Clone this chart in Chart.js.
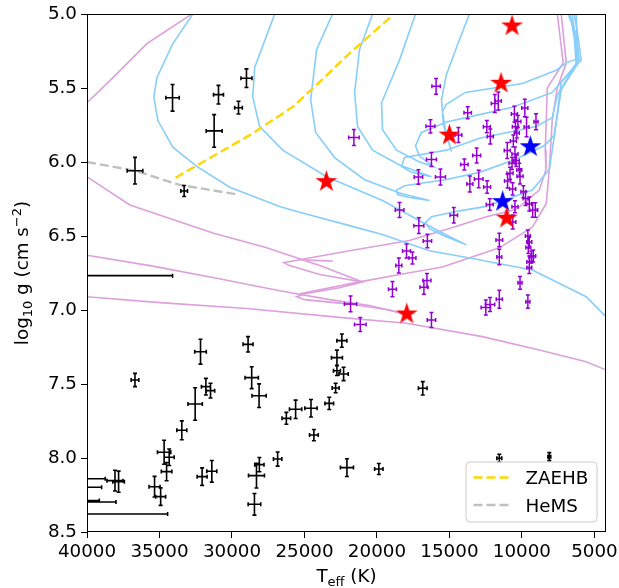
<!DOCTYPE html>
<html>
<head>
<meta charset="utf-8">
<script src="https://cdn.jsdelivr.net/npm/chart.js@4.4.0/dist/chart.umd.min.js"></script>
<style>
  html, body { margin: 0; padding: 0; background: #fff; }
</style>
</head>
<body>
<canvas id="hrd" width="619" height="588"></canvas>
<script>
// axis ticks
const xTicks = [40000, 35000, 30000, 25000, 20000, 15000, 10000, 5000];
const yTicks = [5.0, 5.5, 6.0, 6.5, 7.0, 7.5, 8.0, 8.5];

// [Teff, log g, err Teff, err log g]
const blackPts = [
  [34100, 5.566, 460, 0.090], [30930, 5.545, 345, 0.063], [29000, 5.434, 380, 0.063],
  [29550, 5.633, 265, 0.043], [31230, 5.790, 550, 0.110], [36690, 6.059, 540, 0.090],
  [33300, 6.196, 230, 0.037],
  [45000, 6.768, 10900, 0.03], [41500, 8.140, 2760, 0.03], [41000, 8.198, 2010, 0.03],
  [40800, 8.288, 1650, 0.03], [42000, 8.297, 4000, 0.03], [44000, 8.378, 9560, 0.03],
  [38070, 8.153, 550, 0.070], [37820, 8.160, 400, 0.071],
  [36690, 7.473, 265, 0.045], [32170, 7.282, 400, 0.084], [28890, 7.232, 345, 0.052],
  [28640, 7.457, 460, 0.074], [28130, 7.579, 490, 0.080], [31800, 7.518, 310, 0.056],
  [31480, 7.545, 290, 0.050], [32540, 7.635, 495, 0.110], [33460, 7.813, 345, 0.064],
  [34680, 7.961, 460, 0.081], [34330, 7.995, 345, 0.056], [34510, 8.092, 365, 0.062],
  [35340, 8.194, 380, 0.070], [34920, 8.261, 345, 0.059], [32060, 8.126, 345, 0.059],
  [31390, 8.090, 345, 0.073], [28310, 8.119, 550, 0.084], [28110, 8.045, 320, 0.048],
  [28450, 8.313, 435, 0.073], [26850, 8.007, 290, 0.048], [26250, 7.732, 300, 0.040],
  [25610, 7.671, 425, 0.062], [24550, 7.664, 425, 0.059], [24350, 7.845, 300, 0.038],
  [23290, 7.631, 300, 0.041], [22850, 7.527, 240, 0.032], [22420, 7.207, 345, 0.045],
  [22760, 7.322, 380, 0.051], [22760, 7.410, 240, 0.033], [22300, 7.432, 320, 0.045],
  [22070, 8.065, 450, 0.060], [19870, 8.074, 290, 0.037], [16840, 7.529, 300, 0.045],
  [11560, 8.002, 170, 0.027], [8110, 7.991, 100, 0.027]
];

const purplePts = [
  [15920, 5.489, 290, 0.053], [21590, 5.834, 365, 0.054], [13740, 5.667, 255, 0.041],
  [11870, 5.605, 240, 0.061], [11630, 5.588, 210, 0.061], [16310, 5.759, 310, 0.045],
  [14380, 5.818, 240, 0.051], [12420, 5.761, 240, 0.041], [12180, 5.828, 210, 0.051],
  [10520, 5.676, 210, 0.053], [9800, 5.635, 210, 0.059], [10280, 5.726, 210, 0.041],
  [9030, 5.728, 140, 0.054], [9680, 5.764, 170, 0.066], [10590, 5.858, 210, 0.041],
  [10350, 5.804, 170, 0.034], [11010, 5.922, 210, 0.054], [13120, 5.956, 275, 0.051],
  [16240, 5.983, 345, 0.047], [13970, 6.017, 255, 0.037], [10680, 6.009, 210, 0.041],
  [10390, 5.990, 210, 0.041], [17140, 6.101, 290, 0.049], [15620, 6.101, 345, 0.054],
  [12980, 6.115, 300, 0.059], [13590, 6.149, 210, 0.054], [12400, 6.169, 240, 0.042],
  [10990, 6.128, 210, 0.047], [10640, 6.182, 210, 0.041], [10130, 6.097, 210, 0.051],
  [10820, 6.076, 210, 0.041], [9900, 6.201, 170, 0.041], [9750, 6.247, 170, 0.047],
  [12220, 6.287, 240, 0.039], [10480, 6.302, 210, 0.041], [9260, 6.324, 210, 0.049],
  [9080, 6.324, 170, 0.049], [18440, 6.324, 300, 0.051], [14700, 6.360, 260, 0.052],
  [17110, 6.430, 345, 0.053], [10630, 6.405, 210, 0.047], [16520, 6.534, 290, 0.045],
  [11560, 6.527, 230, 0.045], [9590, 6.500, 170, 0.041], [9490, 6.541, 170, 0.041],
  [17960, 6.601, 275, 0.047], [17550, 6.649, 240, 0.041], [18490, 6.699, 210, 0.051],
  [11560, 6.642, 170, 0.053], [9350, 6.642, 170, 0.041], [9490, 6.676, 170, 0.041],
  [9490, 6.713, 170, 0.041], [18930, 6.859, 275, 0.052], [16550, 6.801, 275, 0.047],
  [16760, 6.847, 275, 0.047], [10130, 6.816, 140, 0.043], [21820, 6.959, 425, 0.053],
  [21150, 7.098, 400, 0.047], [16240, 7.068, 290, 0.051], [12490, 6.983, 325, 0.051],
  [12200, 6.963, 325, 0.047], [11560, 6.928, 210, 0.061], [9590, 6.944, 140, 0.045],
  [9560, 6.578, 170, 0.041], [9220, 6.635, 170, 0.041], [10480, 5.946, 210, 0.047],
  [9490, 6.284, 170, 0.047], [10450, 5.761, 210, 0.045], [10180, 6.054, 170, 0.045]
];

const redStars = [[10680, 5.081], [11440, 5.468], [15000, 5.818], [23490, 6.133], [11050, 6.380], [17940, 7.027]];
const blueStars = [[9420, 5.897], [11330, 6.268]];

const zaehb = [[33890, 6.106], [28550, 5.806], [25790, 5.626], [24180, 5.480], [21890, 5.266], [18900, 5.007], [18650, 4.970]];
const hems = [[40000, 6.000], [36690, 6.059], [33600, 6.155], [29690, 6.218]];

// evolutionary tracks, [Teff, log g]
const blueTracks = [
  [[32430,4.95],[32700,5.00],[34080,5.20],[35180,5.43],[35390,5.56],[35110,5.72],[34080,5.90],[32430,6.03],[30150,6.17],[26710,6.30],[25330,6.34],[21890,6.43],[19620,6.49],[16380,6.60],[12930,6.66],[12450,6.67],[9280,6.73],[5570,6.91],[4260,7.04],[3710,7.10]],
  [[26850,4.95],[27050,5.00],[28430,5.36],[28570,5.56],[28090,5.76],[26500,5.92],[23470,6.10],[19620,6.26],[15690,6.47],[13830,6.56],[15350,6.50],[16380,6.45],[16650,6.41],[16240,6.37],[14310,6.33],[12450,6.30],[9280,6.19],[8110,6.05],[7700,5.78],[7290,5.51],[6050,5.32],[6190,5.18],[6250,5.00],[6250,4.95]],
  [[22920,4.95],[23060,5.00],[24160,5.24],[24570,5.58],[24230,5.80],[22920,5.97],[20850,6.12],[18440,6.21],[16380,6.26],[17760,6.24],[18580,6.22],[18650,6.19],[18100,6.16],[15280,6.12],[12930,6.07],[10660,5.99],[8460,5.89],[7770,5.82],[7560,5.67],[7290,5.46],[5910,5.31],[6120,5.16],[6390,5.00],[6390,4.95]],
  [[20170,4.95],[20300,5.00],[21200,5.24],[21540,5.53],[21340,5.76],[20300,5.92],[18440,6.02],[16240,6.10],[17620,6.07],[18310,6.03],[18100,5.97],[15210,5.92],[12930,5.84],[9010,5.76],[7910,5.70],[7560,5.55],[6190,5.32],[6320,5.16],[6530,5.00],[6530,4.95]],
  [[17200,4.95],[17340,5.00],[18440,5.31],[19680,5.60],[19620,5.78],[18650,5.92],[17070,6.00],[16100,6.03],[17070,5.96],[17340,5.89],[16930,5.80],[15210,5.73],[12930,5.68],[10660,5.63],[7910,5.53],[6250,5.34],[6390,5.16],[6670,5.00],[6670,4.95]],
  [[13490,4.95],[13620,5.00],[14450,5.21],[15210,5.41],[15550,5.58],[15410,5.75],[14860,5.93],[15280,5.78],[15480,5.66],[15210,5.61],[13900,5.53],[9970,5.47],[7630,5.38],[6940,5.33],[6120,5.30],[6250,5.14],[6810,5.00],[6810,4.95]]
];

const pinkTracks = [
  [[40480,5.65],[40000,5.60],[38210,5.43],[35870,5.20],[32910,5.01],[32430,4.95]],
  [[40480,6.07],[40000,6.10],[37040,6.29],[31320,6.48],[27600,6.58],[23950,6.70],[20990,6.81]],
  [[7700,4.95],[7560,5.00],[7150,5.33],[8250,5.50],[8390,5.92],[8340,6.05],[8800,6.19],[10390,6.32],[12450,6.37],[15000,6.45],[17760,6.53],[21890,6.60],[25330,6.66],[26430,6.68],[26020,6.70],[23950,6.76],[20990,6.81],[22580,6.85],[24990,6.89],[25540,6.91],[24990,6.93],[21890,6.96],[19130,7.00],[17960,7.03]],
  [[25330,6.66],[23060,6.67]],
  [[7430,4.95],[7290,5.00],[6940,5.33],[7560,5.50],[7910,5.72],[8110,6.05],[8320,6.28],[9280,6.44],[11560,6.58],[15480,6.71],[18440,6.76],[21200,6.81],[25330,6.89]],
  [[40480,6.62],[40000,6.63],[35660,6.70],[31320,6.78],[26710,6.87],[23270,6.93],[20510,6.97],[17960,7.03]],
  [[40480,6.91],[40000,6.91],[34970,6.95],[28980,6.99],[22580,7.05],[17960,7.09],[12730,7.18],[8800,7.27],[5570,7.35],[3840,7.42]]
];

const FONT = '"DejaVu Sans", sans-serif';
const xy = arr => arr.map(p => ({ x: p[0], y: p[1] }));
const xyErr = arr => arr.map(p => ({ x: p[0], y: p[1], ex: p[2], ey: p[3] }));

function makeStar(color, R) {
  const c = document.createElement('canvas');
  const s = Math.ceil(2 * R + 4);
  c.width = s; c.height = s;
  const g = c.getContext('2d');
  g.translate(s / 2, s / 2);
  g.beginPath();
  for (let i = 0; i < 10; i++) {
    const r = i % 2 ? R * 0.382 : R;
    const a = -Math.PI / 2 + i * Math.PI / 5;
    g.lineTo(r * Math.cos(a), r * Math.sin(a));
  }
  g.closePath();
  g.fillStyle = color;
  g.fill();
  return c;
}

function trackSet(tracks, color) {
  return tracks.map(t => ({
    data: xy(t), showLine: true, pointRadius: 0, borderColor: color,
    borderWidth: 1.6, fill: false, tension: 0, clip: 0
  }));
}

// error bars drawn right after their dataset so layering follows dataset order
const errorBars = {
  id: 'errorBars',
  afterDatasetDraw(chart, args) {
    const ds = chart.data.datasets[args.index];
    if (!ds.errColor) return;
    const { ctx, chartArea: a, scales: { x, y } } = chart;
    const cap = 2;
    ctx.save();
    ctx.beginPath();
    ctx.rect(a.left, a.top, a.right - a.left, a.bottom - a.top);
    ctx.clip();
    ctx.strokeStyle = ds.errColor;
    ctx.lineWidth = ds.errWidth;
    ctx.beginPath();
    ds.data.forEach(p => {
      const px = x.getPixelForValue(p.x), py = y.getPixelForValue(p.y);
      const x1 = x.getPixelForValue(p.x - p.ex), x2 = x.getPixelForValue(p.x + p.ex);
      const y1 = y.getPixelForValue(p.y - p.ey), y2 = y.getPixelForValue(p.y + p.ey);
      ctx.moveTo(x1, py); ctx.lineTo(x2, py);
      ctx.moveTo(px, y1); ctx.lineTo(px, y2);
      ctx.moveTo(x1, py - cap); ctx.lineTo(x1, py + cap);
      ctx.moveTo(x2, py - cap); ctx.lineTo(x2, py + cap);
      ctx.moveTo(px - cap, y1); ctx.lineTo(px + cap, y1);
      ctx.moveTo(px - cap, y2); ctx.lineTo(px + cap, y2);
    });
    ctx.stroke();
    ctx.restore();
  }
};

function drawRich(ctx, parts, x, y, rotate) {
  const big = 18.3, small = 13;
  ctx.save();
  ctx.translate(x, y);
  if (rotate) ctx.rotate(-Math.PI / 2);
  let total = 0;
  const widths = parts.map(([t, k]) => {
    ctx.font = (k === 'n' ? big : small) + 'px ' + FONT;
    const w = ctx.measureText(t).width;
    total += w;
    return w;
  });
  let cx = -total / 2;
  ctx.fillStyle = '#000';
  ctx.textBaseline = 'alphabetic';
  parts.forEach(([t, k], i) => {
    ctx.font = (k === 'n' ? big : small) + 'px ' + FONT;
    const dy = k === 'sub' ? 4 : (k === 'sup' ? -7.5 : 0);
    ctx.fillText(t, cx, dy);
    cx += widths[i];
  });
  ctx.restore();
}

const decorations = {
  id: 'decorations',
  afterDraw(chart) {
    const { ctx, chartArea: a } = chart;
    ctx.save();
    // frame
    ctx.strokeStyle = '#000';
    ctx.lineWidth = 1;
    ctx.strokeRect(a.left + 0.5, a.top + 0.5, a.right - a.left - 1, a.bottom - a.top - 1);

    // axis titles
    drawRich(ctx, [['T', 'n'], ['eff', 'sub'], [' (K)', 'n']], (a.left + a.right) / 2, 582, false);
    drawRich(ctx, [['log', 'n'], ['10', 'sub'], [' g (cm s', 'n'], ['\u22122', 'sup'], [')', 'n']], 28, (a.top + a.bottom) / 2, true);

    // legend box
    const lx = 466, ly = 462, lw = 131, lh = 60, r = 4;
    ctx.beginPath();
    ctx.moveTo(lx + r, ly);
    ctx.arcTo(lx + lw, ly, lx + lw, ly + lh, r);
    ctx.arcTo(lx + lw, ly + lh, lx, ly + lh, r);
    ctx.arcTo(lx, ly + lh, lx, ly, r);
    ctx.arcTo(lx, ly, lx + lw, ly, r);
    ctx.closePath();
    ctx.fillStyle = 'rgba(255,255,255,0.8)';
    ctx.fill();
    ctx.strokeStyle = '#cccccc';
    ctx.lineWidth = 1;
    ctx.stroke();

    const items = chart.data.datasets.filter(d => d.legendLabel);
    items.forEach((d, i) => {
      const yy = 477.5 + i * 27.5;
      ctx.beginPath();
      ctx.setLineDash(d.borderDash || []);
      ctx.strokeStyle = d.borderColor;
      ctx.lineWidth = d.borderWidth;
      ctx.moveTo(473.5, yy);
      ctx.lineTo(511, yy);
      ctx.stroke();
      ctx.setLineDash([]);
      ctx.fillStyle = '#000';
      ctx.font = '18.3px ' + FONT;
      ctx.textBaseline = 'alphabetic';
      ctx.fillText(d.legendLabel, 525.5, yy + 6.8);
    });
    ctx.restore();
  }
};

const datasets = [
  { data: xy(redStars), pointStyle: makeStar('#ff0000', 11.5), pointRadius: 12, showLine: false },
  { data: xy(blueStars), pointStyle: makeStar('#0000ff', 11.5), pointRadius: 12, showLine: false },
  { data: xyErr(purplePts), pointRadius: 0, showLine: false, errColor: '#9400d3', errWidth: 1.5 },
  { data: xyErr(blackPts), pointRadius: 0, showLine: false, errColor: '#000000', errWidth: 1.6 },
  { data: xy(zaehb), legendLabel: 'ZAEHB', showLine: true, pointRadius: 0, borderColor: '#ffd700',
    borderWidth: 2.4, borderDash: [9, 4], fill: false, clip: 0 },
  { data: xy(hems), legendLabel: 'HeMS', showLine: true, pointRadius: 0, borderColor: '#c0c0c0',
    borderWidth: 2.4, borderDash: [9, 4], fill: false, clip: 0 },
  ...trackSet(blueTracks, '#87cefa'),
  ...trackSet(pinkTracks, '#dda0dd')
];

new Chart(document.getElementById('hrd').getContext('2d'), {
  type: 'scatter',
  data: { datasets: datasets },
  options: {
    responsive: false,
    animation: false,
    events: [],
    layout: { padding: { top: 14, right: 12, left: 0, bottom: 0 } },
    plugins: { legend: { display: false }, tooltip: { enabled: false } },
    scales: {
      x: {
        type: 'linear', reverse: true, min: 4200, max: 40000,
        afterBuildTicks: s => { s.ticks = xTicks.map(v => ({ value: v })); },
        afterFit: s => { s.height = 56; s.paddingLeft = 0; s.paddingRight = 0; },
        ticks: { color: '#000', font: { family: FONT, size: 18.3 }, padding: 3, maxRotation: 0, autoSkip: false,
                 callback: v => String(v) },
        grid: { drawOnChartArea: false, color: '#000', tickLength: 6, tickWidth: 1 },
        border: { display: false }
      },
      y: {
        type: 'linear', reverse: true, min: 5, max: 8.5,
        afterBuildTicks: s => { s.ticks = yTicks.map(v => ({ value: v })); },
        afterFit: s => { s.width = 87; s.paddingTop = 0; s.paddingBottom = 0; },
        ticks: { color: '#000', font: { family: FONT, size: 18.3 }, padding: 4, autoSkip: false,
                 callback: v => Number(v).toFixed(1) },
        grid: { drawOnChartArea: false, color: '#000', tickLength: 6, tickWidth: 1 },
        border: { display: false }
      }
    }
  },
  plugins: [errorBars, decorations]
});
</script>
</body>
</html>
